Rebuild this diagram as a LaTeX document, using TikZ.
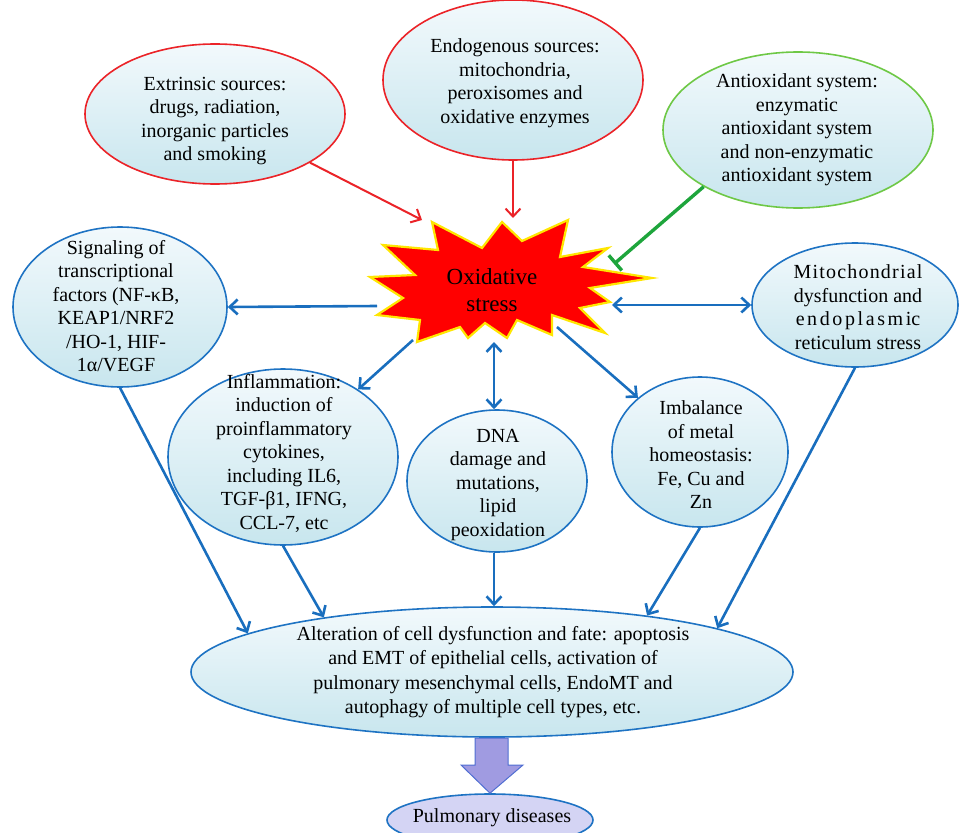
\documentclass[tikz,border=0pt]{standalone}
\usepackage{fontspec}
\setmainfont{Liberation Serif}
\usetikzlibrary{arrows.meta,shapes.geometric,calc}
\definecolor{bblue}{RGB}{25,110,190}
\definecolor{eblue}{RGB}{30,115,195}
\definecolor{rred}{RGB}{235,35,40}
\definecolor{gline}{RGB}{30,165,60}
\definecolor{gell}{RGB}{110,200,70}
\definecolor{ftop}{RGB}{242,249,252}
\definecolor{fbot}{RGB}{200,230,238}
\definecolor{burst}{RGB}{255,0,0}
\definecolor{burstedge}{RGB}{255,230,0}
\definecolor{bigarr}{RGB}{160,155,225}
\definecolor{bigarredge}{RGB}{80,110,210}
\definecolor{pulfill}{RGB}{212,212,244}
\tikzset{
  ell/.style={ellipse, inner sep=0pt, draw=eblue, line width=1.6pt, top color=ftop, bottom color=fbot},
  txt/.style={align=center, font=\fontsize{20}{23.5}\selectfont, inner sep=0pt},
  barrow/.style={draw=bblue, line width=2.6pt, -{Straight Barb[length=8pt,width=15pt]}},
  bdarrow/.style={draw=bblue, line width=2.6pt, {Straight Barb[length=8pt,width=15pt]}-{Straight Barb[length=8pt,width=15pt]}},
  rarrow/.style={draw=rred, line width=2pt, -{Straight Barb[length=8pt,width=15pt]}},
  gbar/.style={draw=gline, line width=3.4pt, -{Bar[width=20pt,line width=3.4pt]}},
}
\begin{document}
\begin{tikzpicture}[x=1pt,y=-1pt]
\useasboundingbox (0,0) rectangle (960,832);
\clip (0,0) rectangle (960,832);

% top source ellipses
\node[ell, draw=rred, minimum width=260pt, minimum height=140pt] (ext) at (215,114) {};
\node[txt] (ext-t) at (215,121) {Extrinsic sources:\\drugs, radiation,\\inorganic particles\\and smoking};
\node[ell, draw=rred, minimum width=260pt, minimum height=160pt] (endo) at (513,80) {};
\node[txt] (endo-t) at (515,83) {Endogenous sources:\\mitochondria,\\peroxisomes and\\oxidative enzymes};
\node[ell, draw=gell, minimum width=270pt, minimum height=156pt] (anti) at (798,130) {};
\node[txt] (anti-t) at (797,130) {Antioxidant system:\\enzymatic\\antioxidant system\\and non-enzymatic\\antioxidant system};

% starburst
\draw[fill=burst, draw=burstedge, line width=2.2pt, line join=miter]
 (432,222) -- (438,250) -- (383,245) -- (415,275) -- (370,277) -- (403,298) -- (377,315)
 -- (420,320) -- (417,342) -- (460,327) -- (468,338) -- (485,323) -- (507,338) -- (517,320)
 -- (552,335) -- (552,315) -- (605,333) -- (580,308) -- (610,302) -- (590,288) -- (652,278)
 -- (583,267) -- (608,248) -- (560,257) -- (568,220) -- (522,241) -- (502,222) -- (482,248) -- cycle;
\node[txt, font=\fontsize{23}{27}\selectfont] (ox) at (492,290) {Oxidative\\stress};
\coordinate (os-ext) at (422,220);
\coordinate (os-endo) at (513,218);
\coordinate (os-anti) at (614,264);
\coordinate (os-sig) at (377,306);
\coordinate (os-mit) at (612,305);
\coordinate (os-inf) at (413,340);
\coordinate (os-dna) at (494,342);
\coordinate (os-imb) at (557,327);

% middle ellipses
\node[ell, minimum width=214pt, minimum height=160pt] (sig) at (120,307) {};
\node[txt] (sig-t) at (116,306) {Signaling of\\transcriptional\\factors (NF-κB,\\KEAP1/NRF2\\/HO-1, HIF-\\1α/VEGF};
\node[ell, minimum width=206pt, minimum height=124pt] (mit) at (855,305) {};
\node[txt] (mit-t) at (858,307) {{\addfontfeature{LetterSpace=6}Mitochondrial}\\dysfunction and\\{\addfontfeature{LetterSpace=13}endoplasmi}c\\reticulum stress};
\node[ell, minimum width=230pt, minimum height=176pt] (inf) at (283,457) {};
\node[txt] (inf-t) at (284,453) {Inflammation:\\induction of\\proinflammatory\\cytokines,\\including IL6,\\TGF-β1, IFNG,\\CCL-7, etc};
\node[ell, minimum width=180pt, minimum height=142pt] (dna) at (497,481) {};
\node[txt] (dna-t) at (498,485) {DNA\\damage and\\mutations,\\lipid\\peoxidation};
\node[ell, minimum width=176pt, minimum height=150pt] (imb) at (700,452) {};
\node[txt] (imb-t) at (701,455) {Imbalance\\of metal\\homeostasis:\\Fe, Cu and\\Zn};

% bottom
\node[ell, minimum width=602pt, minimum height=130pt] (bot) at (492,672) {};
\node[txt, font=\fontsize{20}{24.3}\selectfont] (bot-t) at (493,672) {Alteration of cell dysfunction and fate: apoptosis\\and EMT of epithelial cells, activation of\\pulmonary mesenchymal cells, EndoMT and\\autophagy of multiple cell types, etc.};
\node[ellipse, inner sep=0pt, draw=eblue, line width=1.6pt, fill=pulfill, minimum width=206pt, minimum height=52pt] (pul) at (490,820) {};
\node[txt] (pul-t) at (492,818) {Pulmonary diseases};
\draw[fill=bigarr, draw=bigarredge, line width=1pt, line join=miter]
 (475,738) -- (508,738) -- (508,765) -- (523,765) -- (pul.north) -- (461,765) -- (475,765) -- cycle;

% connectors
\draw[rarrow] (ext) -- (os-ext);
\draw[rarrow] (endo.south) -- (os-endo);
\draw[gbar] (anti.211) -- (os-anti);
\draw[barrow] (os-sig) -- (sig.east);
\draw[bdarrow] (os-mit) -- (mit.west);
\draw[barrow] (os-inf) -- (inf);
\draw[bdarrow] (os-dna) -- (os-dna |- dna.north);
\draw[barrow] (os-imb) -- (imb);
\draw[barrow] (sig.south) -- (bot.171);
\draw[barrow] (inf.south) -- (bot.162);
\draw[barrow] (dna.south -| os-dna) -- (os-dna |- bot.north);
\draw[barrow] (imb.south) -- (bot.20);
\draw[barrow] (mit.south) -- (bot.11.5);
\end{tikzpicture}
\end{document}
